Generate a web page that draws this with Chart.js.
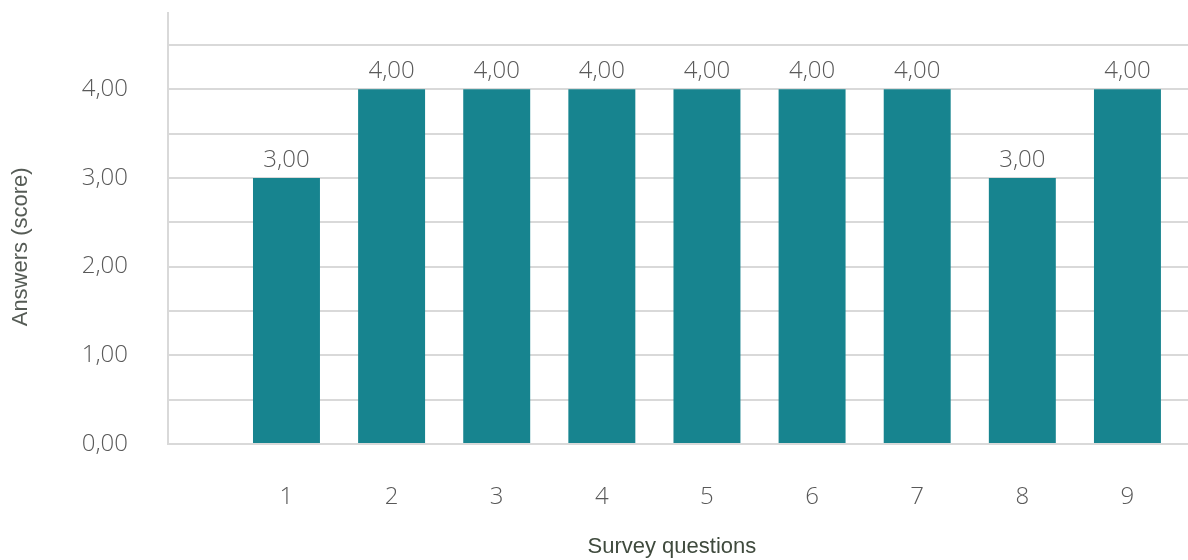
<!DOCTYPE html>
<html>
<head>
<meta charset="utf-8">
<script src="https://cdn.jsdelivr.net/npm/chart.js@4"></script>
<style>
  html, body { margin: 0; padding: 0; background: #ffffff; }
  #wrap { width: 1188px; height: 560px; }
</style>
</head>
<body>
<div id="wrap"><canvas id="c" width="1188" height="560"></canvas></div>
<script>
// ---- data ----
const categories = ['1', '2', '3', '4', '5', '6', '7', '8', '9'];
const scores = [3, 4, 4, 4, 4, 4, 4, 3, 4];
const yTickLabels = ['0,00', '1,00', '2,00', '3,00', '4,00'];
const xTitle = 'Survey questions';
const yTitle = 'Answers (score)';

const barColor = '#17848f';
const gridColor = '#d9d9d9';
const textColor = '#595959';

const fmt = v => v.toFixed(2).replace('.', ',');

const points = categories.map((c, i) => ({ x: i + 1, y: scores[i] }));

const valueLabels = {
  id: 'valueLabels',
  afterDatasetsDraw(chart) {
    const ctx = chart.ctx;
    const meta = chart.getDatasetMeta(0);
    ctx.save();
    ctx.font = '300 24px "Open Sans", sans-serif';
    ctx.fillStyle = textColor;
    ctx.textAlign = 'center';
    ctx.textBaseline = 'alphabetic';
    meta.data.forEach((el, i) => {
      ctx.fillText(fmt(scores[i]), el.x, el.y - 11);
    });
    ctx.restore();
  }
};

new Chart(document.getElementById('c'), {
  type: 'bar',
  data: {
    datasets: [{
      data: points,
      backgroundColor: barColor,
      borderWidth: 0,
      categoryPercentage: 1,
      barPercentage: 0.637
    }]
  },
  options: {
    responsive: false,
    animation: false,
    events: [],
    layout: { padding: { top: 13, left: 0, right: 0, bottom: 0 } },
    plugins: { legend: { display: false }, tooltip: { enabled: false } },
    scales: {
      x: {
        type: 'linear',
        min: -0.127,
        max: 9.576,
        offset: false,
        grid: { display: false, drawTicks: false },
        border: { display: true, color: gridColor, width: 2 },
        afterBuildTicks: s => { s.ticks = categories.map((c, i) => ({ value: i + 1 })); },
        afterFit: s => { s.height = 116; s.paddingLeft = 0; s.paddingRight = 0; },
        ticks: {
          autoSkip: false,
          maxRotation: 0,
          padding: 39,
          color: textColor,
          font: { family: '"Open Sans", sans-serif', size: 24, weight: 300 },
          callback: (v) => categories[Math.round(v) - 1]
        },
        title: {
          display: true,
          text: xTitle + '  ',
          color: '#3f4a3d',
          font: { family: '"Liberation Sans", Arial, sans-serif', size: 22 },
          padding: { top: 0, bottom: 0 }
        }
      },
      y: {
        min: 0,
        max: 4.86,
        grid: { color: gridColor, lineWidth: 2, drawTicks: false },
        border: { display: true, color: gridColor, width: 2 },
        afterBuildTicks: s => {
          s.ticks = s.ticks.filter(t => Math.abs(t.value * 2 - Math.round(t.value * 2)) < 1e-6);
        },
        afterFit: s => { s.width = 168; s.paddingTop = 0; s.paddingBottom = 0; },
        ticks: {
          stepSize: 0.5,
          padding: 40,
          color: textColor,
          font: { family: '"Open Sans", sans-serif', size: 24, weight: 300 },
          callback: (v) => Number.isInteger(v) ? yTickLabels[v] : ''
        },
        title: {
          display: true,
          text: yTitle + '      ',
          color: '#555b55',
          font: { family: '"Liberation Sans", Arial, sans-serif', size: 22 },
          padding: { top: 8, bottom: 0 }
        }
      }
    }
  },
  plugins: [valueLabels]
});
</script>
</body>
</html>
